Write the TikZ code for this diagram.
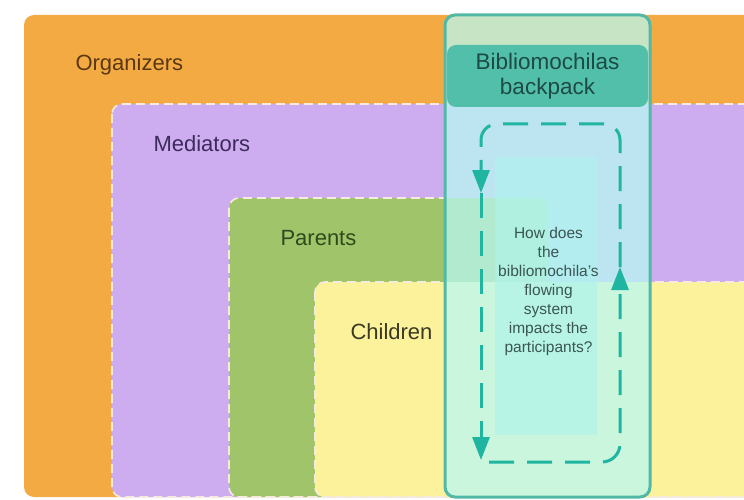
\documentclass[tikz,border=0pt]{standalone}
\usepackage{fontspec}
\setmainfont{Liberation Sans}
\usetikzlibrary{arrows.meta}

\definecolor{orgorange}{HTML}{F4AA42}
\definecolor{medpurple}{HTML}{CEACF0}
\definecolor{pargreen}{HTML}{9FC46A}
\definecolor{kidyellow}{HTML}{FCF29C}
\definecolor{rimwhite}{HTML}{F6EADF}
\definecolor{colcyan}{HTML}{B8F8F2}
\definecolor{colrim}{HTML}{52B9A6}
\definecolor{innercyan}{HTML}{AEF4EE}
\definecolor{packteal}{HTML}{52BFAA}
\definecolor{packtext}{HTML}{1D4A44}
\definecolor{flowteal}{HTML}{1FB5A0}
\definecolor{orgtext}{HTML}{5A3814}
\definecolor{medtext}{HTML}{3C2A5C}
\definecolor{partext}{HTML}{2F4A1C}
\definecolor{kidtext}{HTML}{3A3A24}
\definecolor{asktext}{HTML}{3A5552}

\begin{document}
\begin{tikzpicture}[x=1pt,y=-1pt,
  zone/.style={rounded corners=10pt},
  rim/.style={draw=rimwhite,line width=1.6pt,dash pattern=on 9pt off 5pt,rounded corners=10pt},
  lbl/.style={anchor=base west,font=\fontsize{22}{26}\selectfont},
  flow/.style={draw=flowteal,line width=3pt,dash pattern=on 25pt off 13pt,
    -{Triangle[length=23pt,width=17pt]}}]
  \useasboundingbox (0,0) rectangle (744,500);
  \clip (0,0) rectangle (744,500);
  \fill[white] (0,0) rectangle (744,500);

  % nested groups
  \fill[orgorange,zone] (24,15) rectangle (790,497);
  \fill[medpurple,zone] (112,104) rectangle (790,497);
  \fill[pargreen,zone] (229,198) rectangle (548,497);
  \fill[kidyellow,zone] (315,282) rectangle (790,497);
  \begin{scope}
    \clip (0,0) rectangle (445,500) (651,0) rectangle (744,500);
    \draw[rim] (112,104) rectangle (790,497);
    \draw[rim] (229,198) rectangle (548,497);
    \draw[rim] (315,282) rectangle (790,497);
  \end{scope}

  \node[lbl,text=orgtext] (orgLbl) at (72,71) {Organizers};
  \node[lbl,text=medtext] (medLbl) at (150,151) {Mediators};
  \node[lbl,text=partext] (parLbl) at (277,245) {Parents};
  \node[lbl,text=kidtext] (kidLbl) at (347,339) {Children};

  % backpack column
  \path[fill=colcyan,fill opacity=.75,draw=colrim,line width=3pt,rounded corners=10pt]
    (445,15) rectangle (650,497);
  \fill[innercyan,opacity=.6] (495,157) rectangle (597,435);
  \node[fill=packteal,rounded corners=9pt,minimum width=201pt,minimum height=62pt,
    align=center,text=packtext,font=\fontsize{22.5}{25}\selectfont] (pack) at (547.5,76)
    {Bibliomochilas\\backpack};
  \node[anchor=north,inner sep=0pt,align=center,text=asktext,
    font=\fontsize{15.5}{19}\selectfont] (ask) at (548.5,226.7)
    {How does\\the\\bibliomochila's\\flowing\\system\\impacts the\\participants?};

  \coordinate (loopNW) at (481,124);
  \coordinate (loopNE) at (620,124);
  \coordinate (loopSE) at (620,462);
  \coordinate (downTip) at (481,193);
  \coordinate (bottomTip) at (481,460);
  \coordinate (bottomStart) at (489,462);
  \coordinate (upTip) at (620,267);
  \draw[flow,rounded corners=16pt] (upTip) -- (loopNE) -- (loopNW) -- (downTip);
  \draw[flow] (downTip) -- (bottomTip);
  \draw[flow,rounded corners=18pt] (bottomStart) -- (loopSE) -- (upTip);
\end{tikzpicture}
\end{document}
